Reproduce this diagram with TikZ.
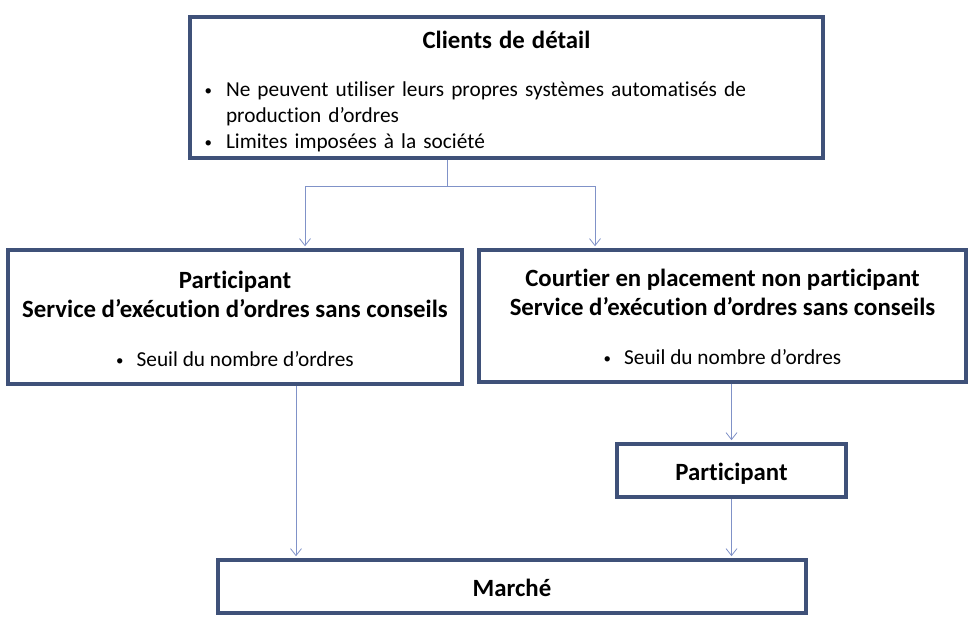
\documentclass[tikz,border=0pt]{standalone}
\usepackage{fontspec}
\setmainfont{Carlito}[Ligatures=NoCommon]
\usepackage{tikz}
\usetikzlibrary{arrows.meta}

\definecolor{boxblue}{RGB}{63,81,121}
\definecolor{linkblue}{RGB}{128,146,200}

\newcommand{\puce}{\raisebox{1.5pt}{\scalebox{0.7}{•}}}
\newcommand{\corps}{\fontsize{21.3}{26}\selectfont\mdseries}
\newcommand{\titre}{\fontsize{24.8}{29}\selectfont\bfseries}

\tikzset{
  box/.style={draw=boxblue,line width=3.6pt,fill=white,inner sep=0pt,align=center,font=\titre},
  link/.style={draw=linkblue,line width=0.8pt,shorten >=2pt,-{Straight Barb[length=7pt,width=11pt]}}
}

\begin{document}
\begin{tikzpicture}[x=1pt,y=1pt]
  \useasboundingbox (0,0) rectangle (979,-629);
  % boxes
  \node[box,minimum width=633,minimum height=141,text width=604,align=left,font=\corps]
    (clients) at (506.5,-87.5)
    {\rule{0pt}{26pt}\makebox[\linewidth]{\titre Clients de détail}\\[22pt]
     \makebox[21.5pt][l]{\puce}Ne peuvent utiliser leurs propres systèmes automatisés de\\
     \hspace*{21.5pt}production d’ordres\\
     \makebox[21.5pt][l]{\puce}Limites imposées à la société};
  \node[box,minimum width=454,minimum height=134] (particip) at (235,-317)
    {\rule{0pt}{22pt}Participant\\
     Service d’exécution d’ordres sans conseils\\[20pt]
     {\corps\puce\hspace{13pt}Seuil du nombre d’ordres}};
  \node[box,minimum width=487,minimum height=132] (courtier) at (722.5,-316)
    {\rule{0pt}{20pt}Courtier en placement non participant\\
     Service d’exécution d’ordres sans conseils\\[20pt]
     {\corps\puce\hspace{13pt}Seuil du nombre d’ordres}};
  \node[box,minimum width=229,minimum height=53] (membre) at (731.5,-470.5)
    {\rule{0pt}{24pt}Participant};
  \node[box,minimum width=588,minimum height=53] (marche) at (512,-586.5)
    {\rule{0pt}{20.5pt}Marché};
  % connectors
  \coordinate (split) at (447,-186);
  \coordinate (gauche) at ([xshift=61pt]particip.south);
  \draw[link] (clients.south -| split) -- (split) -| ([xshift=70pt]particip.north);
  \draw[link] (split) -| ([xshift=-127.5pt]courtier.north);
  \draw[link] (gauche) -- (gauche |- marche.north);
  \draw[link] (courtier.south -| membre.north) -- (membre.north);
  \draw[link] (membre.south) -- (membre.south |- marche.north);
\end{tikzpicture}
\end{document}
